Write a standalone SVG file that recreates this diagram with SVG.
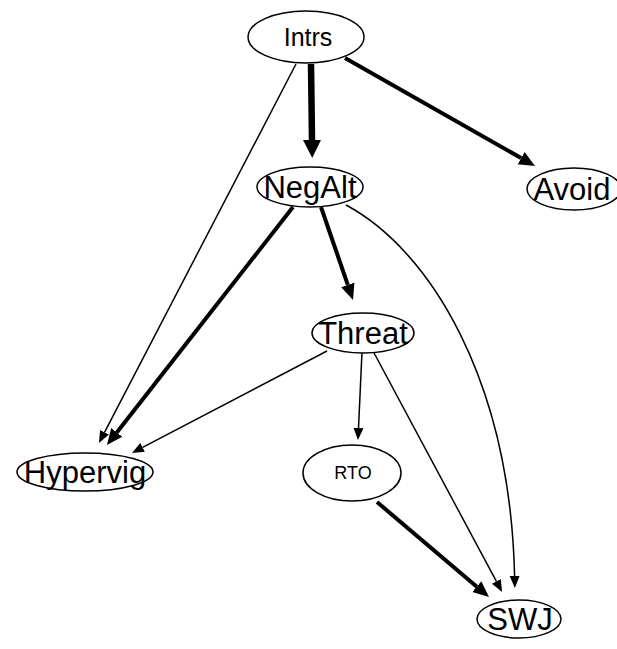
<svg xmlns="http://www.w3.org/2000/svg" width="617" height="649" viewBox="0 0 617 649">
  <style>
    .node ellipse { fill: #ffffff; stroke: #000000; stroke-width: 1.5; }
    .node text { font-family: "Liberation Sans", Arial, sans-serif; fill: #000000; text-anchor: middle; }
    .big { font-size: 31px; }
    .edge { fill: none; stroke: #000000; }
    .thin { stroke-width: 1.5; marker-end: url(#headThin); }
    .mid { stroke-width: 4; marker-end: url(#headMid); }
    .heavy { stroke-width: 6.5; marker-end: url(#headHeavy); }
  </style>
  <defs>
    <marker id="headThin" markerUnits="userSpaceOnUse" markerWidth="14" markerHeight="12" refX="0" refY="6" orient="auto" viewBox="0 0 14 12">
      <path d="M0,1 L12,6 L0,11 z" fill="#000000"/>
    </marker>
    <marker id="headMid" markerUnits="userSpaceOnUse" markerWidth="18" markerHeight="16" refX="0" refY="8" orient="auto" viewBox="0 0 18 16">
      <path d="M0,1 L16,8 L0,15 z" fill="#000000"/>
    </marker>
    <marker id="headHeavy" markerUnits="userSpaceOnUse" markerWidth="20" markerHeight="20" refX="0" refY="10" orient="auto" viewBox="0 0 20 20">
      <path d="M0,1 L18,10 L0,19 z" fill="#000000"/>
    </marker>
  </defs>

  <g id="edges">
    <path class="edge heavy" d="M311,64 L312,140"/>
    <path class="edge mid" d="M345,58 L521.1,158.1"/>
    <path class="edge thin" d="M296,64 L104.5,432.3"/>
    <path class="edge mid" d="M293,207 L116.8,432.4"/>
    <path class="edge mid" d="M321,207 L347.8,284.9"/>
    <path class="edge thin" d="M346,205 C430,250 510,380 514.6,576"/>
    <path class="edge thin" d="M327,351 L142.6,447.4"/>
    <path class="edge thin" d="M362,352 L358.5,428"/>
    <path class="edge thin" d="M373,351 L496.4,581.4"/>
    <path class="edge mid" d="M377,502 L476.8,586.7"/>
  </g>

  <g id="node-Intrs" class="node">
    <ellipse cx="306" cy="37" rx="58" ry="26"/>
    <text x="308" y="46" font-size="25">Intrs</text>
  </g>
  <g id="node-NegAlt" class="node">
    <ellipse cx="310" cy="187" rx="53" ry="20"/>
    <text class="big" x="310" y="198">NegAlt</text>
  </g>
  <g id="node-Avoid" class="node">
    <ellipse cx="574" cy="189" rx="47" ry="21"/>
    <text class="big" x="572" y="200">Avoid</text>
  </g>
  <g id="node-Threat" class="node">
    <ellipse cx="363" cy="333" rx="51" ry="20"/>
    <text class="big" x="363" y="344">Threat</text>
  </g>
  <g id="node-Hypervig" class="node">
    <ellipse cx="85" cy="472" rx="68" ry="19"/>
    <text class="big" x="85" y="483">Hypervig</text>
  </g>
  <g id="node-RTO" class="node">
    <ellipse cx="352" cy="473" rx="49" ry="28"/>
    <text x="353" y="479" font-size="18">RTO</text>
  </g>
  <g id="node-SWJ" class="node">
    <ellipse cx="519" cy="619" rx="42" ry="19"/>
    <text class="big" x="520" y="630">SWJ</text>
  </g>
</svg>
